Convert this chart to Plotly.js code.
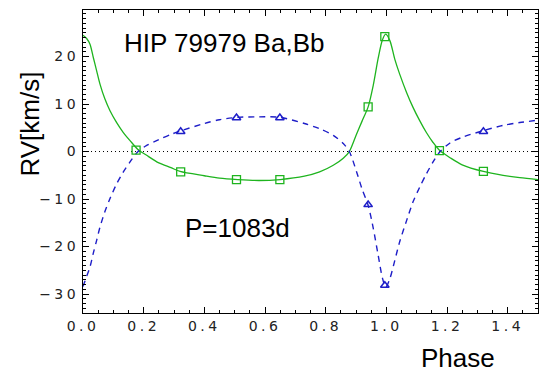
<!DOCTYPE html>
<html>
<head>
<meta charset="utf-8">
<script src="https://cdn.plot.ly/plotly-3.0.1.min.js"></script>
<style>
html, body { margin: 0; padding: 0; background: #fff; }
#chart { width: 541px; height: 372px; }
.xtick text, .ytick text { letter-spacing: 3.5px; }
</style>
</head>
<body>
<div id="chart"></div>
<script>
// Fitted orbit curves
const curvePhase = [0.0, 0.012, 0.023, 0.034, 0.045, 0.056, 0.072, 0.089, 0.111, 0.133, 0.155, 0.18, 0.21, 0.25, 0.29, 0.32, 0.40, 0.45, 0.51, 0.58, 0.65, 0.73, 0.78, 0.825, 0.858, 0.878, 0.902, 0.92, 0.94, 0.957, 0.973, 0.987, 0.998, 1.012, 1.028, 1.044, 1.067, 1.088, 1.11, 1.132, 1.154, 1.176, 1.21, 1.25, 1.32, 1.385, 1.44, 1.5];
const curveBa = [24.5, 23.8, 22.6, 19.8, 17.0, 14.2, 11.1, 8.6, 6.1, 4.0, 2.3, 0.5, -0.8, -2.4, -3.4, -4.2, -5.1, -5.6, -5.9, -6.1, -5.9, -5.2, -4.3, -2.9, -1.4, 0.0, 3.7, 6.4, 9.4, 14.0, 19.6, 23.5, 24.7, 23.3, 19.4, 16.3, 12.4, 9.3, 6.5, 4.0, 1.9, 0.2, -1.3, -2.8, -4.2, -5.0, -5.5, -5.9];
const curveBb = [-28.4, -26.3, -24.3, -21.4, -18.7, -15.9, -12.7, -9.9, -6.8, -4.3, -2.2, -0.1, 1.3, 2.5, 3.6, 4.3, 5.9, 6.7, 7.2, 7.3, 7.2, 5.9, 4.8, 3.4, 1.7, 0.0, -4.3, -7.9, -11.3, -16.2, -21.8, -26.6, -28.6, -26.7, -22.9, -19.0, -14.5, -10.6, -7.5, -4.7, -2.2, -0.1, 1.8, 3.0, 4.4, 5.5, 6.1, 6.6];

// Measurements
const baPhase = [0.175, 0.322, 0.506, 0.649, 0.94, 0.995, 1.175, 1.32];
const baRV = [0.3, -4.3, -5.9, -5.9, 9.4, 24.2, 0.2, -4.2];
const bbPhase = [0.322, 0.506, 0.649, 0.94, 0.995, 1.32];
const bbRV = [4.2, 7.1, 7.1, -11.2, -28.2, 4.2];

const green = 'rgb(30,180,30)';
const blue = 'rgb(30,30,200)';

const traces = [
  { x: curvePhase, y: curveBa, mode: 'lines', line: { color: green, width: 1.3, shape: 'spline', smoothing: 0.8 }, hoverinfo: 'skip' },
  { x: curvePhase, y: curveBb, mode: 'lines', line: { color: blue, width: 1.4, dash: '6px,5px', shape: 'spline', smoothing: 0.8 }, hoverinfo: 'skip' },
  { x: baPhase, y: baRV, mode: 'markers', marker: { symbol: 'square-open', size: 8, color: green, line: { width: 1.3 } } },
  { x: bbPhase, y: bbRV, mode: 'markers', marker: { symbol: 'triangle-up-open', size: 7.5, color: blue, line: { width: 1.5 } } }
];

const tickFont = { family: 'DejaVu Sans', size: 14, color: '#222' };
const textFont = { family: 'Liberation Sans, Arial, sans-serif', size: 26, color: '#000' };

const layout = {
  width: 541, height: 372,
  margin: { l: 83, r: 3, t: 10, b: 59 },
  paper_bgcolor: '#fff', plot_bgcolor: '#fff',
  showlegend: false,
  xaxis: {
    range: [0, 1.5], dtick: 0.2, tick0: 0, tickformat: '.1f',
    showgrid: false, zeroline: false,
    showline: true, linecolor: '#000', linewidth: 1, mirror: 'allticks',
    ticks: 'inside', ticklen: 6, tickcolor: '#000', tickwidth: 1,
    minor: { dtick: 0.05, ticks: 'inside', ticklen: 3, tickcolor: '#000', showgrid: false },
    tickfont: tickFont
  },
  yaxis: {
    range: [-34, 29.8], dtick: 10, tick0: 0,
    showgrid: false, zeroline: false,
    showline: true, linecolor: '#000', linewidth: 1, mirror: 'allticks',
    ticks: 'inside', ticklen: 6, tickcolor: '#000', tickwidth: 1,
    minor: { dtick: 1, ticks: 'inside', ticklen: 3, tickcolor: '#000', showgrid: false },
    tickfont: tickFont
  },
  shapes: [
    { type: 'line', xref: 'paper', x0: 0, x1: 1, yref: 'y', y0: 0, y1: 0, line: { color: '#000', width: 1, dash: '1px,3px' }, layer: 'below' }
  ],
  annotations: [
    { text: 'HIP 79979 Ba,Bb', xref: 'paper', yref: 'paper', x: 0.0865, y: 0.891, xanchor: 'left', yanchor: 'middle', showarrow: false, font: textFont },
    { text: 'P=1083d', xref: 'paper', yref: 'paper', x: 0.220, y: 0.2805, xanchor: 'left', yanchor: 'middle', showarrow: false, font: textFont },
    { text: 'Phase', xref: 'paper', yref: 'paper', x: 0.739, y: -0.1485, xanchor: 'left', yanchor: 'middle', showarrow: false, font: textFont },
    { text: 'RV[km/s]', xref: 'paper', yref: 'paper', x: -0.1165, y: 0.625, xanchor: 'center', yanchor: 'middle', textangle: -90, showarrow: false, font: textFont }
  ]
};

Plotly.newPlot('chart', traces, layout, { displayModeBar: false, staticPlot: true });
</script>
</body>
</html>
